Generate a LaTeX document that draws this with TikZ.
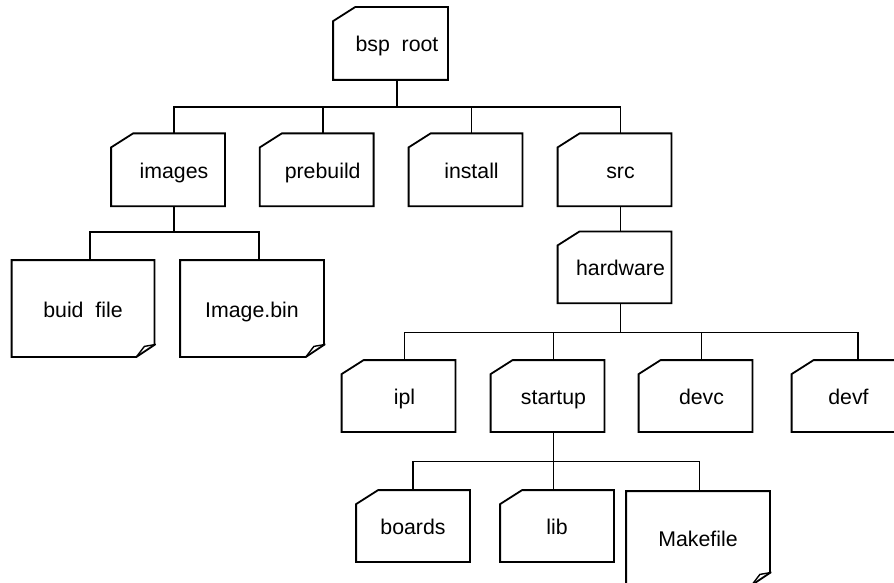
\documentclass[tikz,border=0pt]{standalone}
\usepackage{fontspec}
\setmainfont{Liberation Sans}
\newcommand\fldr[2][0pt]{%
  \draw ([xshift=#1,yshift=-14pt]#2.north west) -- ([xshift=#1+22pt]#2.north west)
    -- ([xshift=#1]#2.north east) -- ([xshift=#1]#2.south east)
    -- ([xshift=#1]#2.south west) -- cycle;}
\newcommand\filebox[1]{%
  \draw (#1.north west) -- (#1.north east) -- ([yshift=12pt]#1.south east)
    -- ([xshift=-18pt]#1.south east) -- (#1.south west) -- cycle;
  \draw[line width=1.4pt] ([xshift=1.5pt,yshift=12.5pt]#1.south east)
    -- ([xshift=-10pt,yshift=10.5pt]#1.south east) -- ([xshift=-18pt]#1.south east);}
\begin{document}
\begin{tikzpicture}[x=1pt,y=-1pt,line width=1.8pt,
  lbl/.style={font=\fontsize{21.3}{25}\selectfont, inner sep=0pt, rectangle,
    text height=20pt, text depth=3pt},
  fold/.style={lbl, minimum width=112pt, minimum height=#1},
  fold/.default=71pt,
  filenode/.style={lbl, minimum width=142pt, minimum height=95pt}]
\useasboundingbox (0,0) rectangle (894,583);
\clip (0,0) rectangle (894,583);
% folders
\node[fold, minimum width=113pt] (root) at (397,43.5) {bsp\ \ root};
\node[fold] (images)   at (174,169.8)   {images};
\node[fold] (prebuild) at (322.7,169.8) {prebuild};
\node[fold] (install)  at (471.5,169.8) {install};
\node[fold] (src)      at (620.5,169.8) {src};
\node[fold=70pt] (hardware) at (620.5,267.3) {hardware};
\node[fold=70pt] (ipl)     at (404.5,396) {ipl};
\node[fold=70pt] (startup) at (553.5,396) {startup};
\node[fold=70pt] (devc)    at (701.5,396) {devc};
\node[fold=70pt] (devf)    at (848.5,396) {devf};
\node[fold=70pt] (boards)  at (413,526) {boards};
\node[fold=70pt] (lib)     at (557,526) {lib};
% files
\node[filenode, minimum width=141pt] (buid) at (83,308.5) {buid\ \ file};
\node[filenode] (imagebin) at (252,308.5) {Image.bin};
\node[filenode, minimum height=92pt] (makefile) at (698,538) {Makefile};
% outlines
\fldr[-6.5pt]{root}
\fldr[-6pt]{images}\fldr[-6pt]{prebuild}\fldr[-6pt]{install}\fldr[-6pt]{src}
\fldr[-6pt]{hardware}
\fldr[-6pt]{ipl}\fldr[-6pt]{startup}\fldr[-6pt]{devc}\fldr{devf}
\fldr{boards}\fldr{lib}
\filebox{buid}\filebox{imagebin}\filebox{makefile}
% bus levels and stem points
\coordinate (b1) at (0,107);
\coordinate (b2) at (0,232);
\coordinate (b3) at (0,332.5);
\coordinate (b4) at (0,461.5);
\coordinate (sbuid) at ([xshift=7pt]buid.north);
\coordinate (simg) at ([xshift=7pt]imagebin.north);
\coordinate (sdevf) at ([xshift=9.5pt]devf.north);
\coordinate (smake) at ([xshift=1.5pt]makefile.north);
% connectors
\draw (root.south) -- (root.south |- b1);
\draw (images.north) |- (src.north |- b1) -- (src.north);
\draw (prebuild.north) -- (prebuild.north |- b1);
\draw (install.north) -- (install.north |- b1);
\draw (images.south) -- (images.south |- b2);
\draw (sbuid) |- (simg |- b2) -- (simg);
\draw (src.south) -- (hardware.north);
\draw (hardware.south) -- (hardware.south |- b3);
\draw (ipl.north) |- (sdevf |- b3) -- (sdevf);
\draw (startup.north) -- (startup.north |- b3);
\draw (devc.north) -- (devc.north |- b3);
\draw (startup.south) -- (startup.south |- lib.north);
\draw (boards.north) |- (smake |- b4) -- (smake);
\end{tikzpicture}
\end{document}
